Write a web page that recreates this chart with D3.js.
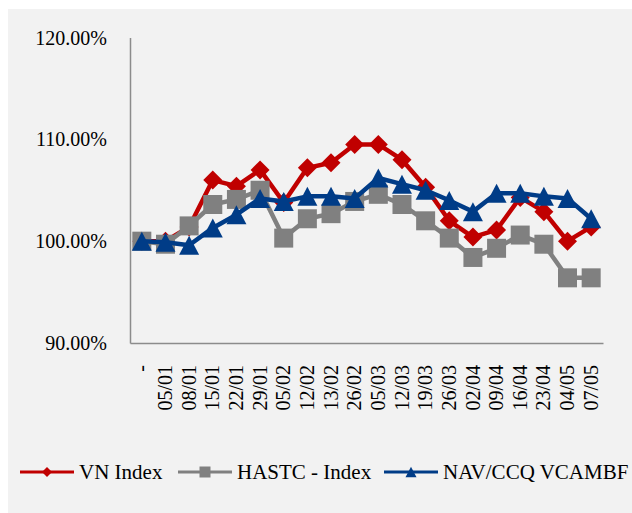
<!DOCTYPE html>
<html>
<head>
<meta charset="utf-8">
<script src="https://cdn.jsdelivr.net/npm/d3@7"></script>
<style>
  body { margin: 0; background: #ffffff; }
  svg text { font-family: "Liberation Serif", "DejaVu Serif", serif; fill: #000; }
</style>
</head>
<body>
<div id="chart"></div>
<script>
// categories (x axis)
var dates = ["-", "05/01", "08/01", "15/01", "22/01", "29/01", "05/02", "12/02", "13/02", "26/02",
             "05/03", "12/03", "19/03", "26/03", "02/04", "09/04", "16/04", "23/04", "04/05", "07/05"];

// series values, in %
var vnIndex = [100.0, 100.0, 101.4, 106.0, 105.4, 107.0, 103.8, 107.2, 107.7, 109.5,
               109.5, 108.0, 105.3, 102.0, 100.4, 101.1, 104.3, 102.9, 100.0, 101.4];
var hastcIndex = [100.0, 99.7, 101.5, 103.6, 104.1, 105.0, 100.3, 102.2, 102.7, 103.9,
                  104.6, 103.6, 102.0, 100.3, 98.4, 99.3, 100.6, 99.7, 96.4, 96.4];
var navVcambf = [100.0, 99.9, 99.6, 101.3, 102.6, 104.2, 103.9, 104.4, 104.4, 104.2,
                 106.2, 105.6, 105.0, 104.0, 102.9, 104.7, 104.7, 104.4, 104.2, 102.2];

var yTicks = [90, 100, 110, 120];
var seriesNames = ["VN Index", "HASTC - Index", "NAV/CCQ VCAMBF"];

// marker shapes
var diamond = { draw: function (ctx, size) {
    var r = Math.sqrt(size) / 2;
    ctx.moveTo(0, -r); ctx.lineTo(r, 0); ctx.lineTo(0, r); ctx.lineTo(-r, 0); ctx.closePath();
} };
var square = { draw: function (ctx, size) {
    var r = Math.sqrt(size) / 2;
    ctx.rect(-r, -r, 2 * r, 2 * r);
} };
var triangle = { draw: function (ctx, size) {
    var r = Math.sqrt(size) / 2;
    ctx.moveTo(0, -r * 0.95); ctx.lineTo(r, r * 0.95); ctx.lineTo(-r, r * 0.95); ctx.closePath();
} };

var series = [
    { name: seriesNames[0], values: vnIndex, color: "#c00000", shape: diamond, size: 19 * 19, legendSize: 10 * 10 },
    { name: seriesNames[1], values: hastcIndex, color: "#808080", shape: square, size: 19 * 19, legendSize: 11 * 11 },
    { name: seriesNames[2], values: navVcambf, color: "#003c87", shape: triangle, size: 20 * 20, legendSize: 11 * 11 }
];

var W = 632, H = 513;

var svg = d3.select("#chart")
    .append("svg")
    .attr("width", W)
    .attr("height", H);

// chart area background
svg.append("rect")
    .attr("x", 8).attr("y", 9)
    .attr("width", W - 8).attr("height", H - 9)
    .attr("fill", "#f2f2f2");

// scales
var x = d3.scaleBand()
    .domain(dates)
    .range([130, 603]);

var y = d3.scaleLinear()
    .domain([90, 120])
    .range([343, 37.5]);

// Y axis
var yAxis = svg.append("g")
    .attr("transform", "translate(130,0)")
    .call(d3.axisLeft(y).tickValues(yTicks).tickSize(0).tickPadding(23)
        .tickFormat(function (d) { return d.toFixed(2) + "%"; }));
yAxis.select(".domain").attr("stroke", "#8c8c8c").attr("stroke-width", 1.5);
yAxis.selectAll("text")
    .style("font-size", "20px")
    .attr("dy", "0.33em");

// X axis
var xAxis = svg.append("g")
    .attr("transform", "translate(0,343)")
    .call(d3.axisBottom(x).tickSize(0));
xAxis.select(".domain").attr("stroke", "#8c8c8c").attr("stroke-width", 1.5);
xAxis.selectAll("text")
    .style("font-size", "20px")
    .style("text-anchor", "end")
    .attr("x", -22)
    .attr("y", 0)
    .attr("dy", "0.33em")
    .attr("transform", "rotate(-90)");

var cx = function (i) { return x(dates[i]) + x.bandwidth() / 2; };

var line = d3.line()
    .x(function (d, i) { return cx(i); })
    .y(function (d) { return y(d); });

// lines + markers, drawn series by series
series.forEach(function (s) {
    var g = svg.append("g");
    g.append("path")
        .datum(s.values)
        .attr("fill", "none")
        .attr("stroke", s.color)
        .attr("stroke-width", 4.5)
        .attr("stroke-linejoin", "round")
        .attr("d", line);
    g.selectAll("path.marker")
        .data(s.values)
        .enter()
        .append("path")
        .attr("class", "marker")
        .attr("transform", function (d, i) { return "translate(" + cx(i) + "," + y(d) + ")"; })
        .attr("d", d3.symbol().type(s.shape).size(s.size))
        .attr("fill", s.color);
});

// legend
var legendX = [20, 178, 384];
var legendY = 472;
var legend = svg.append("g");
series.forEach(function (s, i) {
    var lg = legend.append("g").attr("transform", "translate(" + legendX[i] + "," + legendY + ")");
    lg.append("line")
        .attr("x1", 0).attr("x2", 54)
        .attr("y1", 0).attr("y2", 0)
        .attr("stroke", s.color)
        .attr("stroke-width", 3);
    lg.append("path")
        .attr("transform", "translate(27,0)")
        .attr("d", d3.symbol().type(s.shape).size(s.legendSize))
        .attr("fill", s.color);
    lg.append("text")
        .attr("x", 59)
        .attr("y", 0)
        .attr("dy", "0.33em")
        .style("font-size", "21px")
        .text(s.name);
});
</script>
</body>
</html>
